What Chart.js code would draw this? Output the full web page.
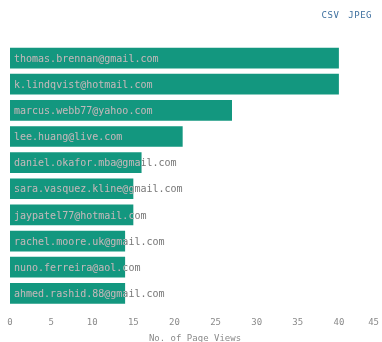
<!DOCTYPE html>
<html>
<head>
<meta charset="utf-8">
<script src="https://cdn.jsdelivr.net/npm/chart.js@4.4.0/dist/chart.umd.min.js"></script>
<style>
  html, body { margin: 0; padding: 0; background: #fff; overflow: hidden; }
  #wrap { position: relative; width: 382px; height: 344px; }
  #exports { position: absolute; top: 10px; right: 10px; font: 9px "DejaVu Sans Mono", monospace; color: #3d6f9e; letter-spacing: 0.5px; }
  #exports span { margin-left: 9px; }
</style>
</head>
<body>
<div id="wrap">
  <canvas id="myChart" width="382" height="344"></canvas>
  <div id="exports"><span>CSV</span><span>JPEG</span></div>
</div>
<script>
// users and their page views (names are blurred in the picture, lengths kept)
const users = [
  "thomas.brennan@gmail.com",
  "k.lindqvist@hotmail.com",
  "marcus.webb77@yahoo.com",
  "lee.huang@live.com",
  "daniel.okafor.mba@gmail.com",
  "sara.vasquez.kline@gmail.com",
  "jaypatel77@hotmail.com",
  "rachel.moore.uk@gmail.com",
  "nuno.ferreira@aol.com",
  "ahmed.rashid.88@gmail.com"
];
const pageViews = [40, 40, 27, 21, 16, 15, 15, 14, 14, 14];
const xTicks = [0, 5, 10, 15, 20, 25, 30, 35, 40, 45];

const barColor = '#13977f';
const tickFont = '9px "DejaVu Sans Mono", monospace';

// writes each user inside its bar, white on the bar and grey past its end
const barLabels = {
  id: 'barLabels',
  afterDatasetsDraw(chart) {
    const ctx = chart.ctx;
    const meta = chart.getDatasetMeta(0);
    ctx.save();
    ctx.font = '10px "DejaVu Sans Mono", monospace';
    ctx.textBaseline = 'middle';
    meta.data.forEach((bar, i) => {
      const p = bar.getProps(['x', 'y', 'base', 'height'], true);
      const tx = p.base + 4;
      ctx.fillStyle = '#777';
      ctx.fillText(users[i], tx, p.y + 1);
      ctx.save();
      ctx.beginPath();
      ctx.rect(p.base, p.y - p.height / 2, p.x - p.base, p.height);
      ctx.clip();
      ctx.fillStyle = 'rgba(255,255,255,0.5)';
      ctx.fillText(users[i], tx, p.y + 1);
      ctx.restore();
    });
    ctx.restore();
  }
};

// x tick labels, the end ones kept inside the canvas like the original
const xLabels = {
  id: 'xLabels',
  afterDraw(chart) {
    const ctx = chart.ctx;
    const sx = chart.scales.x;
    ctx.save();
    ctx.font = tickFont;
    ctx.fillStyle = '#8a8a8a';
    ctx.textBaseline = 'middle';
    ctx.textAlign = 'center';
    xTicks.forEach(v => {
      const s = String(v);
      const w = ctx.measureText(s).width;
      let x = sx.getPixelForValue(v);
      x = Math.min(Math.max(x, 4 + w / 2), chart.width - 3 - w / 2);
      ctx.fillText(s, x, chart.chartArea.bottom + 16);
    });
    ctx.restore();
  }
};

new Chart(document.getElementById('myChart'), {
  type: 'bar',
  data: {
    labels: users,
    datasets: [{
      data: pageViews,
      backgroundColor: barColor,
      borderWidth: 0,
      categoryPercentage: 0.9,
      barPercentage: 0.88
    }]
  },
  options: {
    responsive: false,
    animation: false,
    indexAxis: 'y',
    layout: { padding: { top: 45, left: 10, right: 2, bottom: 0 } },
    plugins: {
      legend: { display: false },
      tooltip: { enabled: false }
    },
    scales: {
      y: { display: false },
      x: {
        min: 0,
        max: 45,
        afterBuildTicks: axis => { axis.ticks = xTicks.map(v => ({ value: v })); },
        grid: { display: false, drawTicks: false },
        border: { display: false },
        ticks: {
          color: 'rgba(0,0,0,0)',
          padding: 0,
          maxRotation: 0,
          autoSkip: false,
          callback: (v, i, t) => (i === 0 || i === t.length - 1) ? '' : String(v),
          font: { family: '"DejaVu Sans Mono", monospace', size: 9 }
        },
        title: {
          display: true,
          text: 'No. of Page Views',
          color: '#8a8a8a',
          padding: { top: 16, bottom: 0 },
          font: { family: '"DejaVu Sans Mono", monospace', size: 9 }
        }
      }
    }
  },
  plugins: [barLabels, xLabels]
});
</script>
</body>
</html>
